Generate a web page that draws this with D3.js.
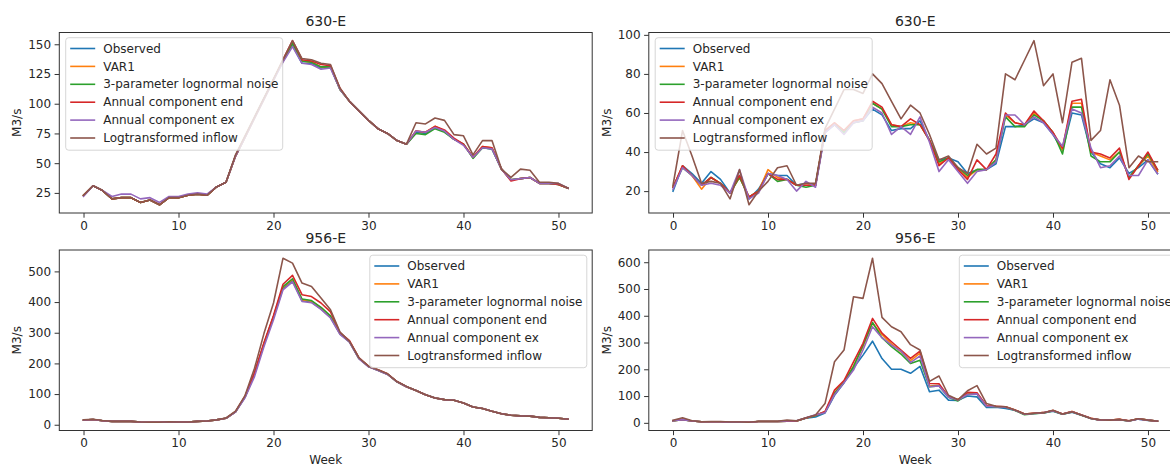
<!DOCTYPE html>
<html>
<head>
<meta charset="utf-8">
<script src="https://cdn.jsdelivr.net/npm/d3@7"></script>
<style>
  html, body { margin: 0; padding: 0; background: #fff; }
  svg { display: block; font-family: "DejaVu Sans", sans-serif; }
</style>
</head>
<body>
<svg id="chart" width="1170" height="465"></svg>
<script>
// ---------------- DATA ----------------
const weeks = d3.range(0, 52);
const seriesNames = ["Observed", "VAR1", "3-parameter lognormal noise", "Annual component end", "Annual component ex", "Logtransformed inflow"];
const seriesColors = ["#1f77b4", "#ff7f0e", "#2ca02c", "#d62728", "#9467bd", "#8c564b"];
const titles = ["630-E", "630-E", "956-E", "956-E"];
const xTicks = [0, 10, 20, 30, 40, 50];
const yTicksA = [25, 50, 75, 100, 125, 150];
const yTicksB = [20, 40, 60, 80, 100];
const yTicksC = [0, 100, 200, 300, 400, 500];
const yTicksD = [0, 100, 200, 300, 400, 500, 600];

// Panel A: 630-E (top left)
const aObserved = [23,31,27,20,21,21,17,19,15,21,21,23,24,23,30,34,56,72,88,104,120,136,149,134,134,130,131,112,102,94,86,79,75,69,66,76,75,80,77,70,66,55,63,62,45,36,37,38,33,33,32,29];
const aVar1     = [23,31,27,20,21,21,17,19,15,21,21,23,24,23,30,34,56,72,88,104,120,136,151,136,135,131,131,112,102,94,86,79,75,69,66,77,76,81,77,70,66,55,64,63,45,36,37,38,33,33,32,29];
const aLognorm  = [23,31,27,20,21,21,17,19,15,21,21,23,24,23,30,34,56,72,88,104,120,136,151,136,135,131,131,112,102,94,86,79,75,69,66,75,74,79,76,70,66,54,63,62,45,36,37,38,33,33,32,29];
const aAnnEnd   = [23,31,27,20,21,21,17,19,15,21,21,23,24,23,30,34,56,72,88,104,120,137,153,137,136,133,132,113,102,94,86,79,75,69,66,77,76,81,78,71,66,55,64,63,45,35,37,38,33,33,32,29];
const aAnnEx    = [22,31,27,22,24,24,20,21,17,22,22,24,25,24,30,34,56,72,88,104,120,135,148,134,133,129,130,112,102,94,86,79,75,69,66,77,76,80,77,70,65,55,63,62,45,36,37,38,33,33,33,29];
const aLogtr    = [23,31,27,20,21,21,17,19,15,21,21,23,24,23,30,34,57,73,89,105,121,137,153,138,137,134,133,113,102,94,86,79,75,69,66,84,83,88,86,74,73,57,69,69,45,38,45,44,34,34,33,29];

// Panel B: 630-E (top right)
const bObserved = [20,33,29,24,30,26,19,28,16,21,29,28,28,23,24,23,50,54,50,55,56,62,59,51,52,52,56,46,36,37,35,29,31,31,34,53,53,54,57,55,49,41,60,59,40,34,32,37,29,32,36,29];
const bVar1     = [22,33,28,21,27,24,19,27,17,20,31,27,26,23,23,23,51,55,51,56,57,65,62,54,53,55,54,46,34,37,32,27,31,31,36,59,55,54,60,56,50,41,65,65,40,38,36,40,27,33,38,30];
const bLognorm  = [22,32,28,23,27,24,19,27,17,20,29,25,26,23,22,23,51,54,50,55,56,65,62,53,53,54,54,46,35,37,32,28,31,31,36,58,53,53,59,56,50,39,63,63,38,35,35,40,27,33,39,31];
const bAnnEnd   = [22,33,28,23,27,24,19,28,17,20,29,26,26,23,23,23,51,55,51,56,57,66,63,54,53,57,54,46,33,37,31,26,36,31,39,60,55,54,61,56,50,42,66,67,40,39,37,42,26,33,40,31];
const bAnnEx    = [21,32,28,23,24,23,19,31,16,19,29,28,26,20,25,22,50,54,49,55,56,63,60,49,53,49,58,45,30,36,30,24,30,31,35,59,59,54,58,55,49,43,62,60,42,32,33,38,28,28,36,29];
const bLogtr    = [23,51,38,24,25,24,16,31,13,20,25,32,33,23,24,24,52,62,72,72,70,80,75,66,57,64,60,49,36,38,32,29,44,39,42,80,77,87,97,74,80,55,86,88,46,51,77,64,32,38,35,35];

// Panel C: 956-E (bottom left)
const cObserved = [15,17,13,11,11,11,9,8,8,10,9,9,11,12,16,21,42,90,165,262,350,445,470,405,400,378,350,296,270,216,190,178,165,140,124,112,98,87,82,80,71,58,53,44,36,31,29,28,24,23,21,18];
const cVar1     = [15,17,13,11,11,11,9,8,8,10,9,9,11,12,16,21,42,91,166,265,353,448,474,408,403,382,353,297,271,216,190,178,165,140,124,112,98,87,82,80,71,58,53,44,36,31,29,28,24,23,21,18];
const cLognorm  = [15,17,13,11,11,11,9,8,8,10,9,9,11,12,16,21,42,91,166,264,352,450,476,410,405,383,355,297,271,216,190,178,165,140,124,112,98,87,82,80,71,58,53,44,36,31,29,28,24,23,21,18];
const cAnnEnd   = [15,17,13,11,11,11,9,8,8,10,9,9,11,12,16,21,43,93,170,268,356,458,487,424,418,397,368,300,274,218,191,179,166,141,124,112,98,87,82,80,71,58,53,44,36,31,29,28,24,23,21,18];
const cAnnEx    = [15,17,13,11,11,11,9,8,8,10,9,9,11,12,16,21,41,88,157,255,342,440,466,402,398,376,348,295,269,215,189,177,164,140,124,112,98,87,82,80,71,58,53,44,36,31,29,28,24,23,21,18];
const cLogtr    = [16,18,14,11,11,11,9,8,8,10,9,9,11,12,16,22,44,95,184,298,397,543,527,462,451,413,375,302,272,218,191,179,166,141,125,112,98,87,82,80,71,58,53,44,36,31,29,28,24,23,21,18];

// Panel D: 956-E (bottom right)
const dObserved = [8,12,7,4,4,4,2,2,2,5,5,5,6,7,17,22,37,103,150,205,253,305,240,200,200,185,211,116,122,85,84,100,97,57,58,54,47,32,35,37,43,32,40,28,16,10,10,12,7,14,9,6];
const dVar1     = [7,12,7,4,4,4,2,2,2,5,5,5,6,7,18,28,41,112,153,212,285,372,330,295,265,232,260,137,140,97,87,108,110,63,61,60,48,33,36,38,46,33,42,29,17,10,10,13,7,15,10,6];
const dLognorm  = [7,12,7,4,4,4,2,2,2,5,5,5,6,7,18,27,40,110,152,210,290,375,318,285,257,222,234,135,138,96,82,106,108,62,60,58,46,30,34,37,44,32,41,28,16,10,10,12,7,15,10,6];
const dAnnEnd   = [8,13,7,4,4,4,2,2,2,5,5,5,6,7,18,28,42,122,158,228,297,390,335,303,272,241,268,147,146,98,86,114,112,64,62,60,48,33,36,38,46,33,42,29,17,10,10,13,8,15,10,6];
const dAnnEx    = [7,12,7,4,4,4,2,2,2,5,5,5,7,8,19,30,38,105,150,197,272,359,318,290,268,225,250,135,138,96,85,106,108,62,60,58,47,32,35,38,45,33,41,29,16,10,10,12,7,14,10,6];
const dLogtr    = [10,19,8,4,5,5,3,3,2,6,6,6,10,8,19,29,72,228,272,471,465,615,394,359,340,292,272,155,175,103,86,120,139,72,62,60,48,33,36,38,47,33,41,29,16,11,10,12,8,15,10,6];

// ---------------- DRAW ----------------
const svg = d3.select("#chart");
const FONT = "DejaVu Sans, sans-serif";
const TXT = "#262626";

const panels = [
  {title: titles[0], series: [aObserved, aVar1, aLognorm, aAnnEnd, aAnnEx, aLogtr], yTicks: yTicksA, left: 59.3, top: 32.5, legend: "left", xlabel: false},
  {title: titles[1], series: [bObserved, bVar1, bLognorm, bAnnEnd, bAnnEx, bLogtr], yTicks: yTicksB, left: 648.8, top: 32.5, legend: "left", xlabel: false},
  {title: titles[2], series: [cObserved, cVar1, cLognorm, cAnnEnd, cAnnEx, cLogtr], yTicks: yTicksC, left: 59.3, top: 250, legend: "right", xlabel: true},
  {title: titles[3], series: [dObserved, dVar1, dLognorm, dAnnEnd, dAnnEx, dLogtr], yTicks: yTicksD, left: 648.8, top: 250, legend: "right", xlabel: true}
];
const PW = 532.9, PH = 180.5;

panels.forEach((p, pi) => {
  const g = svg.append("g").attr("transform", `translate(${p.left},${p.top})`);
  const x = d3.scaleLinear().domain([-2.55, 53.55]).range([0, PW]);
  const all = p.series.flat();
  const mn = d3.min(all), mx = d3.max(all), pad = (mx - mn) * 0.05;
  const y = d3.scaleLinear().domain([mn - pad, mx + pad]).range([PH, 0]);

  const clipId = "clip" + pi;
  g.append("clipPath").attr("id", clipId).append("rect").attr("width", PW).attr("height", PH);

  // lines
  const line = d3.line().x((d, i) => x(weeks[i])).y(d => y(d));
  const lg = g.append("g").attr("clip-path", `url(#${clipId})`);
  p.series.forEach((s, si) => {
    lg.append("path").datum(s).attr("d", line)
      .attr("fill", "none").attr("stroke", seriesColors[si])
      .attr("stroke-width", 1.6).attr("stroke-linejoin", "round").attr("stroke-linecap", "square");
  });

  // axes
  const xAxis = d3.axisBottom(x).tickValues(xTicks).tickSize(4.7).tickPadding(3.5).tickFormat(d3.format("d"));
  const yAxis = d3.axisLeft(y).tickValues(p.yTicks).tickSize(4.7).tickPadding(3.5).tickFormat(d3.format("d"));
  const gx = g.append("g").attr("transform", `translate(0,${PH})`).call(xAxis);
  const gy = g.append("g").call(yAxis);
  [gx, gy].forEach(ax => {
    ax.select(".domain").remove();
    ax.selectAll(".tick line").attr("stroke", "#333").attr("stroke-width", 1);
    ax.selectAll(".tick text").attr("fill", TXT).style("font-family", FONT).style("font-size", "12px");
  });

  // frame
  g.append("rect").attr("width", PW).attr("height", PH)
    .attr("fill", "none").attr("stroke", "#333").attr("stroke-width", 1);

  // title
  g.append("text").attr("x", PW / 2).attr("y", -7)
    .attr("text-anchor", "middle").attr("fill", TXT)
    .style("font-family", FONT).style("font-size", "14px").text(p.title);

  // y label
  g.append("text").attr("transform", `translate(${-38},${PH / 2}) rotate(-90)`)
    .attr("text-anchor", "middle").attr("fill", TXT)
    .style("font-family", FONT).style("font-size", "12px").text("M3/s");

  if (p.xlabel) {
    g.append("text").attr("x", PW / 2).attr("y", PH + 33)
      .attr("text-anchor", "middle").attr("fill", TXT)
      .style("font-family", FONT).style("font-size", "12px").text("Week");
  }

  // legend
  const LW = 217, LH = 112.5;
  const lx = p.legend === "left" ? 6.4 : PW - 5.4 - LW;
  const ly = 5.2;
  const leg = g.append("g").attr("transform", `translate(${lx},${ly})`);
  leg.append("rect").attr("width", LW).attr("height", LH).attr("rx", 3)
    .attr("fill", "white").attr("fill-opacity", 0.8)
    .attr("stroke", "#cccccc").attr("stroke-opacity", 0.8).attr("stroke-width", 1);
  seriesNames.forEach((nm, i) => {
    const cy = 10.8 + i * 17.9;
    leg.append("line").attr("x1", 4.5).attr("x2", 29.5).attr("y1", cy).attr("y2", cy)
      .attr("stroke", seriesColors[i]).attr("stroke-width", 1.6);
    leg.append("text").attr("x", 37.5).attr("y", cy).attr("dy", "0.35em")
      .attr("fill", TXT).style("font-family", FONT).style("font-size", "12px").text(nm);
  });
});
</script>
</body>
</html>
